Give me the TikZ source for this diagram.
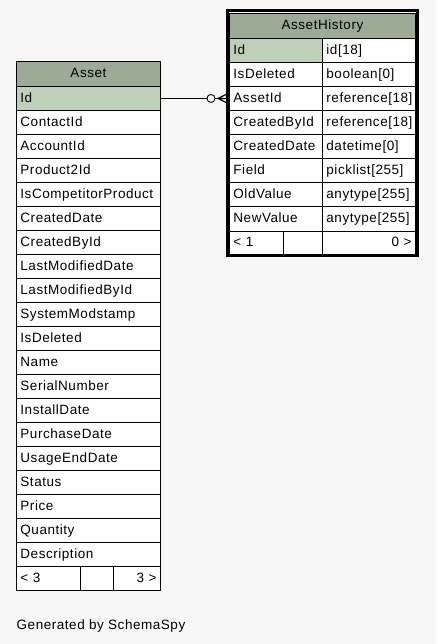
\documentclass[tikz,border=0pt]{standalone}
\usepackage{fontspec}
\setmainfont{Liberation Sans}[LetterSpace=4]
\usetikzlibrary{positioning}
\definecolor{hdrgreen}{HTML}{9BAB96}
\definecolor{keygreen}{HTML}{BED1B8}
\definecolor{pagegray}{HTML}{F7F7F7}

\begin{document}
\begin{tikzpicture}[x=1pt,y=-1pt,
    cell/.style={draw=black,line width=0.9pt,fill=white,anchor=north west,minimum height=24pt,
        inner xsep=4pt,inner ysep=0pt,text height=9.7pt,text depth=2.5pt,align=left,
        font=\fontsize{13.5}{15}\selectfont},
    head/.style={cell,fill=hdrgreen,minimum height=25.5pt,align=center},
    key/.style={fill=keygreen},
    frame/.style={draw=black,line width=3pt},
    link/.style={draw=black,line width=0.9pt}]
    \useasboundingbox[fill=pagegray] (0,0) rectangle (436,644);

    % Asset
    \node[head,text width=136pt] (asset-hdr) at (16,61) {Asset};
    \foreach\name [count=\i] in {Id,ContactId,AccountId,Product2Id,IsCompetitorProduct,CreatedDate,CreatedById,
        LastModifiedDate,LastModifiedById,SystemModstamp,IsDeleted,Name,SerialNumber,InstallDate,
        PurchaseDate,UsageEndDate,Status,Price,Quantity,Description}{
        \node[cell,text width=136pt] (asset-\i) at (16,{86+(\i-1)*24}) {\name};}
    \node[cell,key,text width=136pt] at (asset-1.north west) {Id};
    \node[cell,text width=56pt] (asset-ft1) at (16,566) {< 3};
    \node[cell,text width=25pt] (asset-ft2) at (80,566) {};
    \node[cell,text width=39pt,align=right] (asset-ft3) at (113,566) {3 >};

    % AssetHistory
    \node[head,text width=178pt] (hist-hdr) at (229,13) {AssetHistory};
    \foreach\name/\kind [count=\i] in {Id/id[18],IsDeleted/boolean[0],AssetId/reference[18],
        CreatedById/reference[18],CreatedDate/datetime[0],Field/picklist[255],
        OldValue/anytype[255],NewValue/anytype[255]}{
        \node[cell,text width=85pt] (hist-\i) at (229,{38.5+(\i-1)*24}) {\name};
        \node[cell,text width=85pt] (hist-t\i) at (322,{38.5+(\i-1)*24}) {\kind};}
    \node[cell,key,text width=85pt] at (hist-1.north west) {Id};
    \node[cell,text width=45.7pt] (hist-ft1) at (229,230.5) {< 1};
    \node[cell,text width=31.3pt] (hist-ft2) at (282.7,230.5) {};
    \node[cell,text width=85pt,align=right] (hist-ft3) at (322,230.5) {0 >};
    \draw[frame] ([shift={(-2,-2.3)}]hist-hdr.north west) rectangle ([xshift=2pt]hist-ft3.south east);

    % relation Asset.Id -> AssetHistory.AssetId
    \coordinate (foot) at ([xshift=-2pt]asset-1.east -| hist-3.west);
    \draw[link] (asset-1.east) -- (foot);
    \node[circle,draw=black,line width=0.9pt,fill=white,minimum size=8pt,inner sep=0pt] (opt) at ([xshift=-16pt]foot) {};
    \draw[link,line width=1.2pt] ([xshift=-9pt]foot) -- ([yshift=4.5pt]foot)
        ([xshift=-9pt]foot) -- ([yshift=-4.5pt]foot) ([xshift=-9pt]foot) -- (foot);

    \node[anchor=base west,inner sep=0pt,font=\fontsize{13.5}{15}\selectfont] (credit) at (16.5,629.5) {Generated by SchemaSpy};
\end{tikzpicture}
\end{document}
